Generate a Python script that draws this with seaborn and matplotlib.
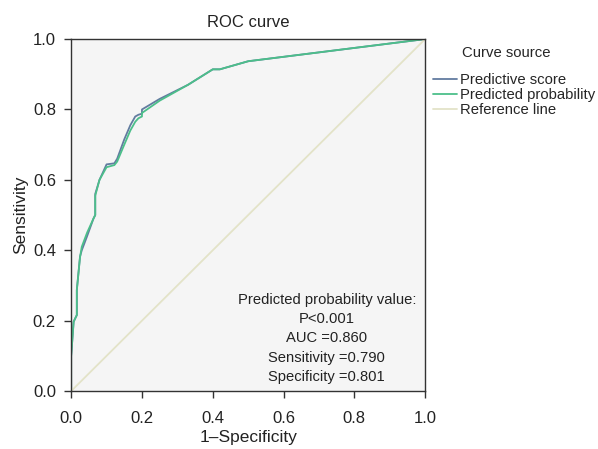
import matplotlib
matplotlib.use("Agg")
import matplotlib.pyplot as plt
import seaborn as sns
import pandas as pd
from matplotlib.lines import Line2D

fpr_score = [0, 0, 0.007, 0.016, 0.016, 0.025, 0.03, 0.045, 0.063, 0.068, 0.068, 0.08, 0.10, 0.122, 0.13, 0.15, 0.167, 0.181, 0.19, 0.20, 0.20, 0.25, 0.33, 0.40, 0.42, 0.50, 1.0]
tpr_score = [0, 0.10, 0.197, 0.216, 0.287, 0.382, 0.40, 0.44, 0.49, 0.50, 0.56, 0.60, 0.644, 0.647, 0.66, 0.715, 0.755, 0.78, 0.785, 0.788, 0.80, 0.83, 0.87, 0.914, 0.914, 0.937, 1.0]
fpr_prob = [0, 0, 0.007, 0.016, 0.016, 0.025, 0.03, 0.045, 0.063, 0.068, 0.068, 0.08, 0.10, 0.122, 0.13, 0.15, 0.167, 0.181, 0.19, 0.20, 0.20, 0.25, 0.33, 0.40, 0.42, 0.50, 1.0]
tpr_prob = [0, 0.10, 0.197, 0.216, 0.287, 0.38, 0.41, 0.45, 0.49, 0.50, 0.555, 0.60, 0.636, 0.642, 0.652, 0.70, 0.74, 0.765, 0.775, 0.78, 0.79, 0.825, 0.87, 0.914, 0.914, 0.937, 1.0]
ref_x = [0, 1]
ref_y = [0, 1]

series_names = ["Predictive score", "Predicted probability", "Reference line"]
colors = ["#627ca0", "#4cbf8a", "#e3e3c8"]

df = pd.concat([
    pd.DataFrame({"fpr": fpr_score, "tpr": tpr_score, "src": series_names[0]}),
    pd.DataFrame({"fpr": fpr_prob, "tpr": tpr_prob, "src": series_names[1]}),
    pd.DataFrame({"fpr": ref_x, "tpr": ref_y, "src": series_names[2]}),
])

sns.set_style("ticks")
plt.rcParams["font.family"] = ["Liberation Sans", "DejaVu Sans"]

fig = plt.figure(figsize=(5.98, 4.49), dpi=100)
ax = fig.add_axes([0.119, 0.129, 0.592, 0.784])
ax.set_facecolor("#f5f5f5")

sns.lineplot(data=df, x="fpr", y="tpr", hue="src", hue_order=series_names,
             palette=colors, sort=False, estimator=None,
             linewidth=1.3, ax=ax, legend=False)

ax.set_xlim(0, 1)
ax.set_ylim(0, 1)
ticks = [0, 0.2, 0.4, 0.6, 0.8, 1.0]
ax.set_xticks(ticks)
ax.set_yticks(ticks)
ax.set_xticklabels([f"{t:.1f}" for t in ticks])
ax.set_yticklabels([f"{t:.1f}" for t in ticks])
ax.tick_params(labelsize=12, length=5, width=1, color="#333333", labelcolor="#222222")
ax.tick_params(axis="x", pad=9.5)
ax.tick_params(axis="y", pad=6)
for s in ax.spines.values():
    s.set_color("#333333")
    s.set_linewidth(1.0)
ax.set_xlabel("1\u2013Specificity", fontsize=12.5, labelpad=3, color="#222222")
ax.set_ylabel("Sensitivity", fontsize=12.5, labelpad=3.5, color="#222222")
ax.set_title("ROC curve", fontsize=12, pad=9, color="#222222")

handles = [Line2D([0], [0], color=c, lw=1.3) for c in colors]
leg = fig.legend(handles, series_names, title="Curve source", loc="upper left",
                 bbox_to_anchor=(0.724, 0.897), frameon=False, fontsize=10.7,
                 title_fontsize=10.7, handlelength=1.65, handletextpad=0.15,
                 labelspacing=0.08, borderaxespad=0, borderpad=0)
leg._legend_box.align = "left"
leg.get_title().set_position((29, 0))
leg._legend_box.sep = 9

ax.text(0.722, 0.28, "Predicted probability value:\nP<0.001\nAUC =0.860\nSensitivity =0.790\nSpecificity =0.801",
        transform=ax.transAxes, ha="center", va="top", fontsize=10.6, linespacing=1.49,
        multialignment="center", color="#222222")

fig.savefig("out.png", dpi=100)
